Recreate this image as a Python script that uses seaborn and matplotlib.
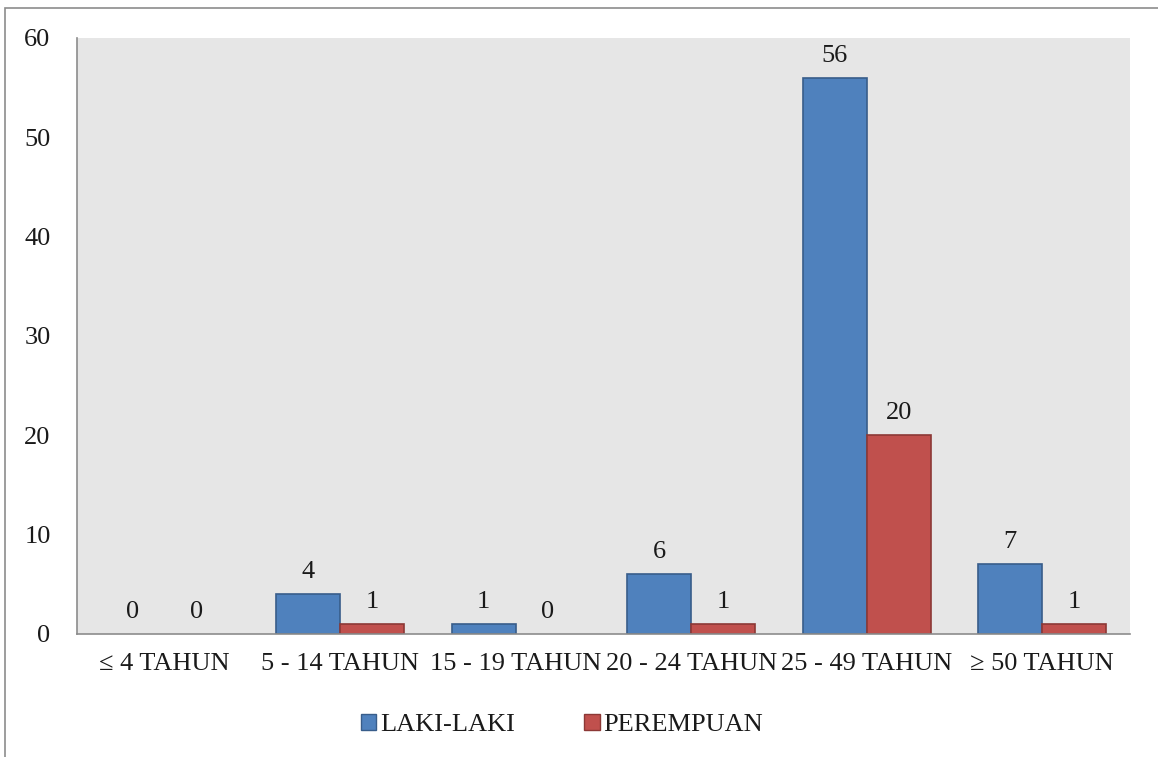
import pandas as pd
import numpy as np
import matplotlib.pyplot as plt
import seaborn as sns
from matplotlib.patches import Rectangle

# data
kelompok_umur = ['≤ 4 TAHUN', '5 - 14 TAHUN', '15 - 19 TAHUN', '20 - 24 TAHUN', '25 - 49 TAHUN', '≥ 50 TAHUN']
laki_laki = [0, 4, 1, 6, 56, 7]
perempuan = [0, 1, 0, 1, 20, 1]
seri = ['LAKI-LAKI', 'PEREMPUAN']

df = pd.DataFrame({
    'umur': kelompok_umur * 2,
    'jumlah': laki_laki + perempuan,
    'jenis': [seri[0]] * len(kelompok_umur) + [seri[1]] * len(kelompok_umur),
})

sns.set_theme(style="white")
plt.rcParams['font.family'] = ['Liberation Serif', 'DejaVu Serif']

fig = plt.figure(figsize=(11.58, 7.57), dpi=100)
ax = fig.add_axes([77 / 1158, 1 - 634 / 757, (1130 - 77) / 1158, (634 - 38) / 757])

warna = {'LAKI-LAKI': '#4F81BD', 'PEREMPUAN': '#C0504D'}
tepi = {'LAKI-LAKI': '#385D8A', 'PEREMPUAN': '#8C3836'}
sns.barplot(data=df, x='umur', y='jumlah', hue='jenis', palette=warna, width=0.73,
            saturation=1, ax=ax, legend=False)

for cont, s in zip(ax.containers, seri):
    for bar in cont:
        bar.set_edgecolor(tepi[s])
        bar.set_linewidth(1.2 if bar.get_height() > 0 else 0)
    ax.bar_label(cont, fmt='%d', padding=8, fontsize=19, color='#1a1a1a')

ax.set_facecolor('#E6E6E6')
ax.set_ylim(0, 60)
ax.set_xlim(-0.5, 5.5)
ax.set_yticks(range(0, 61, 10))
ax.set_xlabel('')
ax.set_ylabel('')
ax.tick_params(axis='y', labelsize=19, pad=19, length=0, labelcolor='#1a1a1a')
ax.tick_params(axis='x', labelsize=19, pad=14, length=0, labelcolor='#1a1a1a')
for sp in ['top', 'right']:
    ax.spines[sp].set_visible(False)
for sp in ['left', 'bottom']:
    ax.spines[sp].set_color('#8C8C8C')
    ax.spines[sp].set_linewidth(1.2)

# legend
handles = [Rectangle((0, 0), 1, 1, facecolor=warna[s], edgecolor=tepi[s]) for s in seri]
fig.legend(handles, seri, loc='center', bbox_to_anchor=(562 / 1158, 1 - 725 / 757), ncol=2,
           frameon=False, fontsize=19, handlelength=0.6, handleheight=0.6,
           handletextpad=0.15, columnspacing=2.6, labelcolor='#1a1a1a')

# outer frame of the chart area
fig.patches.append(Rectangle((5 / 1158, -0.1), 1.2, 1 - 8 / 757 + 0.1, transform=fig.transFigure,
                             fill=False, edgecolor='#8C8C8C', linewidth=1.2))

plt.savefig('out.png', dpi=100)
plt.close()
